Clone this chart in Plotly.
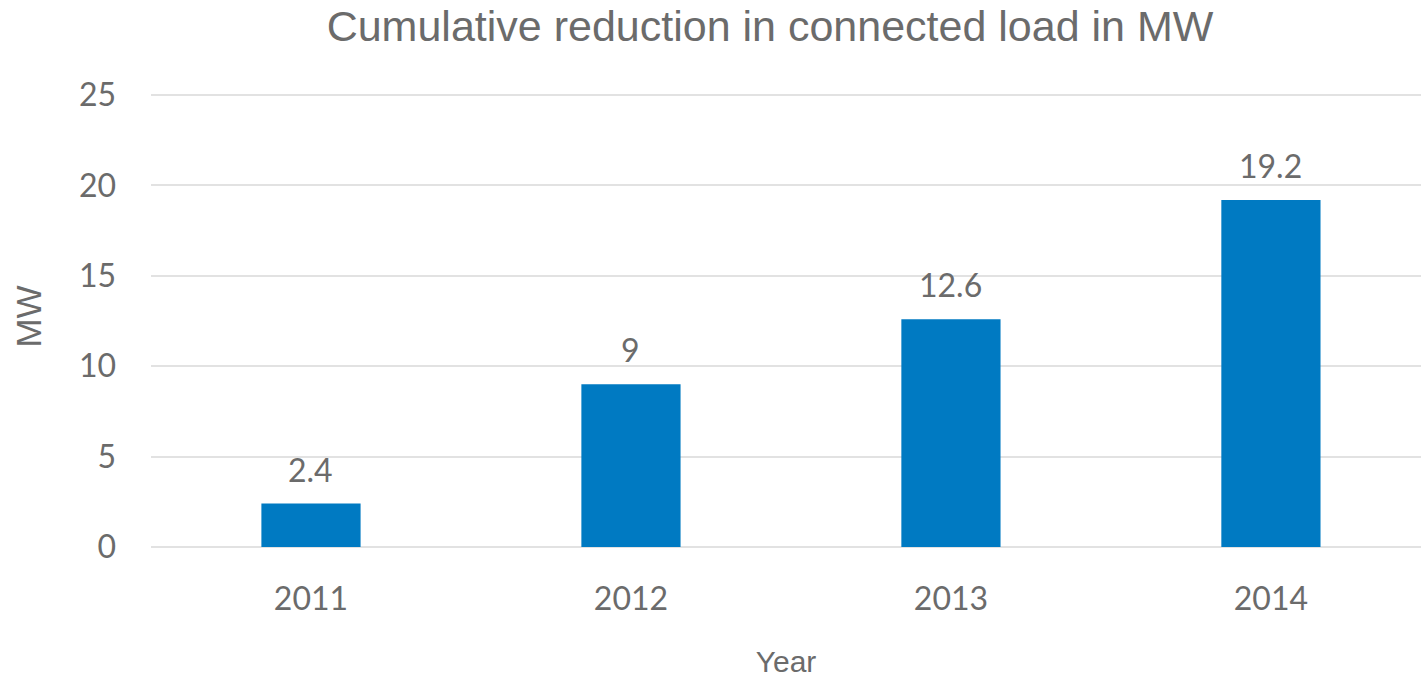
import plotly.graph_objects as go

years = ["2011", "2012", "2013", "2014"]
values = [2.4, 9, 12.6, 19.2]
labels = ["2.4", "9", "12.6", "19.2"]
y_ticks = [0, 5, 10, 15, 20, 25]

TEXT = "#6b6b6b"
BAR = "#007AC2"
GRID = "#e2e2e2"

fig = go.Figure()
fig.add_trace(go.Bar(
    x=years, y=values, width=0.31,
    marker=dict(color=BAR, line=dict(width=0)),
    hoverinfo="x+y",
))

for i, (v, t) in enumerate(zip(values, labels)):
    fig.add_annotation(x=i, y=v, xref="x", yref="y", text=t, showarrow=False,
                       yanchor="bottom", yshift=13,
                       font=dict(family="Lato", size=32, color=TEXT))

fig.update_layout(
    width=1421, height=678,
    margin=dict(l=151, r=0, t=86, b=131),
    paper_bgcolor="white", plot_bgcolor="white",
    showlegend=False,
    title=dict(text="Cumulative reduction in connected load in MW",
               font=dict(family="Liberation Sans, Arial", size=43, color=TEXT),
               x=770 / 1421, xanchor="center", xref="container",
               y=1 - 26 / 678, yanchor="middle"),
    xaxis=dict(
        type="category", range=[-0.5, 3.469],
        showgrid=False, zeroline=False, showline=False,
        ticks="", ticklabelstandoff=30,
        tickfont=dict(family="Lato", size=32, color=TEXT),
        title=dict(text="Year", standoff=36,
                   font=dict(family="Liberation Sans, Arial", size=30, color=TEXT)),
    ),
    yaxis=dict(
        range=[0, 25.5], tickvals=y_ticks,
        showgrid=True, gridcolor=GRID, gridwidth=1.5,
        zeroline=True, zerolinecolor=GRID, zerolinewidth=2,
        showline=False, ticks="", ticklabelstandoff=34,
        tickfont=dict(family="Lato", size=32, color=TEXT),
        title=dict(text="MW", standoff=26,
                   font=dict(family="Liberation Sans, Arial", size=35, color=TEXT)),
    ),
)

fig.write_html("out.html", config={"displayModeBar": False},
               post_script="document.body.style.margin='0';document.body.style.overflow='hidden';")
